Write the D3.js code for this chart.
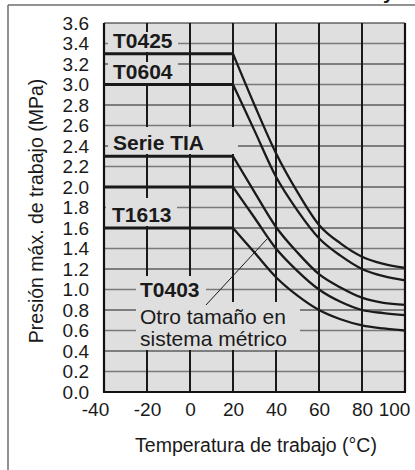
<!DOCTYPE html>
<html>
<head>
<meta charset="utf-8">
<script src="https://cdn.jsdelivr.net/npm/d3@7/dist/d3.min.js"></script>
<style>
  html, body { margin: 0; padding: 0; background: #fff; }
  svg { display: block; }
  text { font-family: "Liberation Sans", Arial, Helvetica, sans-serif; fill: #1a1a1a; }
</style>
</head>
<body>
<svg id="chart" width="415" height="470"></svg>
<script>
// ---- data ----
const xTicks = [-40, -20, 0, 20, 40, 60, 80, 100];
const xTickLabels = ["-40", "-20", "0", "20", "40", "60", "80", "100"];
const yTicks = [0.0, 0.2, 0.4, 0.6, 0.8, 1.0, 1.2, 1.4, 1.6, 1.8, 2.0, 2.2, 2.4, 2.6, 2.8, 3.0, 3.2, 3.4, 3.6];
const flatTemps = [-40, 20];
const curveTemps = [20, 30, 40, 50, 60, 70, 80, 90, 100];
const seriesNames = ["T0425", "T0604", "Serie TIA", "T1613", "T0403"];
const valsT0425 = [3.30, 2.80, 2.33, 1.95, 1.63, 1.45, 1.32, 1.25, 1.21];
const valsT0604 = [3.00, 2.55, 2.10, 1.77, 1.50, 1.33, 1.20, 1.13, 1.09];
const valsTIA   = [2.30, 1.95, 1.61, 1.36, 1.15, 1.02, 0.92, 0.87, 0.85];
const valsT1613 = [2.00, 1.70, 1.40, 1.18, 1.00, 0.88, 0.80, 0.77, 0.75];
const valsT0403 = [1.60, 1.36, 1.12, 0.94, 0.80, 0.71, 0.65, 0.62, 0.60];
const seriesValues = [valsT0425, valsT0604, valsTIA, valsT1613, valsT0403];
const xTitle = "Temperatura de trabajo (°C)";
const yTitle = "Presión máx. de trabajo (MPa)";
const noteLines = ["Otro tamaño en", "sistema métrico"];

// ---- layout ----
const svg = d3.select("#chart");
const x = d3.scaleLinear().domain([-40, 100]).range([104, 405]);
const y = d3.scaleLinear().domain([0, 3.6]).range([392, 23]);
const bg = "#dfdfdf";

// outer frame
svg.append("line").attr("x1", 8).attr("x2", 415).attr("y1", 5).attr("y2", 5)
  .attr("stroke", "#6e6e6e").attr("stroke-width", 1.5);
svg.append("line").attr("x1", 8).attr("x2", 8).attr("y1", 5).attr("y2", 470)
  .attr("stroke", "#6e6e6e").attr("stroke-width", 1.5);
// clipped title remnant (cut off at the top edge, as in the reference)
svg.append("text").attr("x", 383).attr("y", -1).attr("font-size", 20).attr("font-weight", "bold").text("y");

// plot background
svg.append("rect").attr("x", x(-40)).attr("y", y(3.6)).attr("width", x(100) - x(-40)).attr("height", y(0) - y(3.6))
  .attr("fill", bg);

// horizontal gridlines
const gH = svg.append("g");
yTicks.filter(d => d > 0).forEach(d => {
  const k = Math.round(d * 5);
  const dark = k % 2 === 0;
  gH.append("line").attr("x1", x(-40)).attr("x2", x(100)).attr("y1", y(d)).attr("y2", y(d))
    .attr("stroke", dark ? "#1c1c1c" : "#7a7a7a").attr("stroke-width", dark ? 1 : 1.3);
});
// vertical gridlines
const gV = svg.append("g");
xTicks.forEach(d => {
  gV.append("line").attr("x1", x(d)).attr("x2", x(d)).attr("y1", y(3.6)).attr("y2", y(0))
    .attr("stroke", "#1a1a1a").attr("stroke-width", 2);
});

// label background boxes (hide the grid under the labels)
const boxes = [
  [108, 32, 178, 52],
  [108, 62, 178, 83],
  [108, 127, 238, 154],
  [106, 198, 177, 226],
  [136, 276, 206, 302],
  [136, 302, 300, 350]
];
boxes.forEach(b => svg.append("rect").attr("x", b[0]).attr("y", b[1]).attr("width", b[2] - b[0]).attr("height", b[3] - b[1]).attr("fill", bg));

// borders
svg.append("line").attr("x1", x(-40)).attr("x2", x(-40)).attr("y1", y(3.6)).attr("y2", y(0)).attr("stroke", "#111").attr("stroke-width", 2.2);
svg.append("line").attr("x1", x(100)).attr("x2", x(100)).attr("y1", y(3.6)).attr("y2", y(0)).attr("stroke", "#111").attr("stroke-width", 2.2);
svg.append("line").attr("x1", x(-40) - 1).attr("x2", x(100) + 1).attr("y1", y(0)).attr("y2", y(0)).attr("stroke", "#111").attr("stroke-width", 2.2);

// series
const flatLine = d3.line().x(d => x(d[0])).y(d => y(d[1]));
const curveLine = d3.line().x(d => x(d[0])).y(d => y(d[1])).curve(d3.curveMonotoneX);
seriesValues.forEach(vals => {
  svg.append("path").attr("d", flatLine(flatTemps.map(t => [t, vals[0]])))
    .attr("fill", "none").attr("stroke", "#1a1a1a").attr("stroke-width", 2.8);
  svg.append("path").attr("d", curveLine(curveTemps.map((t, i) => [t, vals[i]])))
    .attr("fill", "none").attr("stroke", "#1a1a1a").attr("stroke-width", 2.3).attr("stroke-linejoin", "miter");
});

// leader line
svg.append("line").attr("x1", 206).attr("y1", 305).attr("x2", 267).attr("y2", 239)
  .attr("stroke", "#1a1a1a").attr("stroke-width", 1);

// series labels
const labelPos = [[113, 48], [113, 79], [113, 150], [112, 222], [140, 297]];
seriesNames.forEach((n, i) => {
  svg.append("text").attr("x", labelPos[i][0]).attr("y", labelPos[i][1])
    .attr("font-size", 21).attr("font-weight", "bold").text(n);
});
noteLines.forEach((t, i) => {
  svg.append("text").attr("x", 140).attr("y", 324 + i * 22).attr("font-size", 21).text(t);
});

// axes labels
const yAxis = d3.axisLeft(y).tickValues(yTicks).tickFormat(d3.format(".1f")).tickSize(0).tickPadding(15);
const gy = svg.append("g").attr("transform", `translate(${x(-40)},0)`).call(yAxis);
gy.select(".domain").remove();
gy.selectAll("text").attr("font-size", 19).attr("fill", "#1a1a1a").attr("font-family", "Liberation Sans, Arial, sans-serif");

const xAxis = d3.axisBottom(x).tickValues(xTicks).tickFormat((d, i) => xTickLabels[i]).tickSize(0).tickPadding(11);
const gx = svg.append("g").attr("transform", `translate(0,${y(0)})`).call(xAxis);
gx.select(".domain").remove();
gx.selectAll("text").attr("font-size", 19).attr("fill", "#1a1a1a").attr("font-family", "Liberation Sans, Arial, sans-serif")
  .attr("dx", d => d === -40 ? -9 : (d === 100 ? -11 : 0));

svg.append("text").attr("x", 256).attr("y", 452).attr("text-anchor", "middle").attr("font-size", 19.5).text(xTitle);
svg.append("text").attr("transform", "translate(43,211) rotate(-90)").attr("text-anchor", "middle")
  .attr("font-size", 19.5).text(yTitle);
</script>
</body>
</html>
